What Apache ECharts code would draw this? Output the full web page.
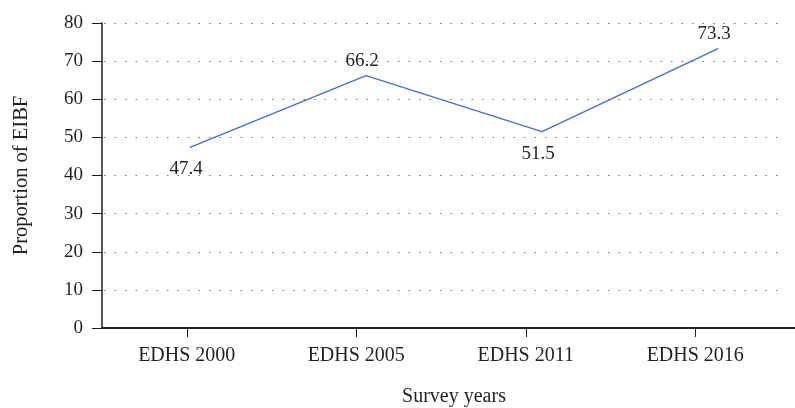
<!DOCTYPE html>
<html style="height: 100%">
<head>
    <meta charset="UTF-8">
    <title>EIBF</title>
    <script type="text/javascript" src="https://cdn.jsdelivr.net/npm/echarts@6/dist/echarts.min.js"></script>
</head>
<body style="height: 100%; margin: 0; background: #fff">
    <div id="container" style="width: 795px; height: 408px"></div>
<script>
    // data
    var surveys = ['EDHS 2000', 'EDHS 2005', 'EDHS 2011', 'EDHS 2016'];
    var eibf = [47.4, 66.2, 51.5, 73.3];
    var yTicks = [0, 10, 20, 30, 40, 50, 60, 70, 80];

    var font = "'Liberation Serif', 'DejaVu Serif', serif";
    var textColor = '#231f20';
    // where each value label sits
    var labelPos = ['bottom', 'top', 'bottom', 'top'];

    var myChart = echarts.init(document.getElementById('container'));

    var seriesData = eibf.map(function (v, i) {
        return {
            value: v,
            label: { position: labelPos[i], distance: labelPos[i] == 'top' ? 5 : 12 }
        };
    });

    var option = {
        animation: false,
        backgroundColor: '#fff',
        textStyle: { fontFamily: font },
        grid: [
            // tick/label grid
            { left: 102, top: 23, width: 678, bottom: 80, outerBoundsMode: 'none' },
            // data grid, the plotted line is spread a bit wider than the tick labels
            { left: 102, top: 23, width: 704, bottom: 80, outerBoundsMode: 'none' }
        ],
        xAxis: [{
            gridIndex: 0,
            type: 'category',
            data: surveys,
            boundaryGap: true,
            axisLine: { show: false },
            axisTick: { show: true, alignWithLabel: true, length: 9, lineStyle: { color: '#231f20', width: 1 } },
            axisLabel: { fontSize: 20, color: textColor, margin: 18, fontFamily: font }
        }, {
            gridIndex: 1,
            type: 'category',
            data: surveys,
            boundaryGap: true,
            axisLine: { show: true, lineStyle: { color: '#231f20', width: 2 } },
            axisTick: { show: false },
            axisLabel: { show: false },
            name: 'Survey years',
            nameLocation: 'middle',
            nameGap: 59,
            nameTextStyle: { fontSize: 20, color: textColor, fontFamily: font }
        }],
        yAxis: [{
            gridIndex: 0,
            type: 'value',
            min: yTicks[0],
            max: yTicks[yTicks.length - 1],
            interval: yTicks[1] - yTicks[0],
            axisLine: { show: true, lineStyle: { color: '#231f20', width: 1.5 } },
            axisTick: { show: true, length: 10, lineStyle: { color: '#231f20', width: 1 } },
            axisLabel: { fontSize: 19, color: textColor, margin: 19, fontFamily: font },
            splitLine: { show: true, showMinLine: false, lineStyle: { color: '#6f6f6f', width: 1, type: [1.5, 9], dashOffset: -2 } },
            name: 'Proportion of EIBF',
            nameLocation: 'middle',
            nameGap: 70,
            nameTextStyle: { fontSize: 20.5, color: textColor, fontFamily: font }
        }, {
            gridIndex: 1,
            type: 'value',
            min: yTicks[0],
            max: yTicks[yTicks.length - 1],
            show: false
        }],
        series: [{
            type: 'line',
            xAxisIndex: 1,
            yAxisIndex: 1,
            data: seriesData,
            symbol: 'circle',
            symbolSize: 1,
            itemStyle: { color: '#4a6ec9' },
            lineStyle: { color: '#4a6ec9', width: 1.4 },
            label: {
                show: true,
                fontSize: 19,
                color: textColor,
                fontFamily: font,
                offset: [-4, 0]
            }
        }]
    };
    myChart.setOption(option, true);
</script>
</body>
</html>
